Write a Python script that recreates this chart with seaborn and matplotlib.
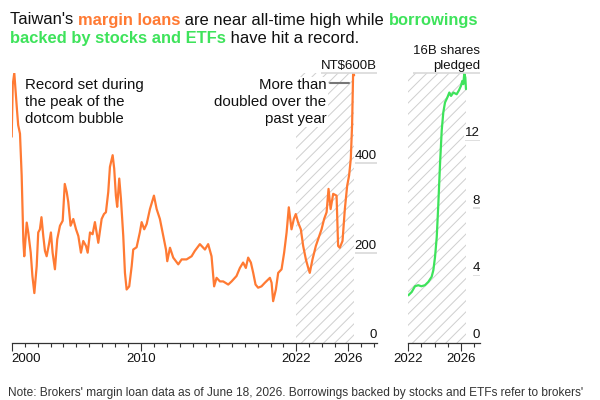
import numpy as np
import pandas as pd
import matplotlib
matplotlib.use('Agg')
import matplotlib.pyplot as plt
import seaborn as sns

# margin loans, NT$ billion
margin_years = [2000.0, 2000.08, 2000.2, 2000.3, 2000.4, 2000.5, 2000.64, 2000.77, 2000.9, 2000.97,
                2001.16, 2001.28, 2001.47, 2001.6, 2001.75, 2001.93, 2002.05, 2002.18, 2002.3, 2002.44,
                2002.57, 2002.7, 2002.88, 2003.03, 2003.16, 2003.34, 2003.52, 2003.73, 2003.94, 2004.1,
                2004.25, 2004.37, 2004.55, 2004.76, 2004.97, 2005.15, 2005.35, 2005.53, 2005.74, 2005.87,
                2006.05, 2006.25, 2006.43, 2006.69, 2006.95, 2007.13, 2007.28, 2007.46, 2007.59, 2007.8,
                2007.92, 2008.05, 2008.15, 2008.31, 2008.44, 2008.62, 2008.75, 2008.88, 2009.08, 2009.27,
                2009.39, 2009.65, 2009.9, 2010.04, 2010.24, 2010.43, 2010.68, 2010.99, 2011.2, 2011.45,
                2011.71, 2011.92, 2012.02, 2012.23, 2012.48, 2012.87, 2013.13, 2013.51, 2013.9, 2014.15,
                2014.54, 2014.93, 2015.18, 2015.44, 2015.64, 2015.83, 2016.09, 2016.34, 2016.73, 2016.99,
                2017.37, 2017.63, 2017.88, 2018.09, 2018.27, 2018.48, 2018.66, 2018.84, 2019.04, 2019.3,
                2019.56, 2019.95, 2020.08, 2020.2, 2020.41, 2020.59, 2020.85, 2021.05, 2021.24, 2021.41,
                2021.62, 2021.8, 2021.95, 2022.13, 2022.34, 2022.52, 2022.73, 2022.91, 2023.03, 2023.24,
                2023.5, 2023.68, 2023.94, 2024.14, 2024.33, 2024.48, 2024.64, 2024.84, 2025.1, 2025.22,
                2025.35, 2025.56, 2025.74, 2025.92, 2026.07, 2026.2, 2026.3, 2026.38, 2026.46]
margin_vals = [458, 574, 600, 560, 521, 484, 465, 372, 226, 192,
               267, 245, 200, 148, 110, 170, 245, 252, 279, 237,
               204, 192, 219, 245, 200, 163, 230, 260, 271, 353,
               335, 313, 260, 275, 252, 237, 200, 226, 215, 200,
               245, 241, 268, 222, 275, 286, 290, 335, 391, 417,
               387, 327, 302, 365, 320, 237, 155, 118, 125, 170,
               207, 212, 245, 268, 252, 264, 297, 327, 297, 275,
               237, 207, 181, 211, 189, 174, 185, 185, 192, 204,
               219, 207, 219, 192, 125, 144, 136, 136, 129, 136,
               148, 166, 178, 166, 189, 178, 155, 129, 122, 125,
               133, 144, 133, 92, 118, 155, 163, 200, 245, 301,
               252, 275, 286, 267, 252, 215, 185, 166, 155, 185,
               215, 230, 252, 275, 290, 342, 297, 331, 327, 215,
               211, 226, 297, 349, 372, 409, 484, 600, 595]

# shares pledged, billions
pledge_years = [2022.0, 2022.26, 2022.51, 2022.76, 2023.0, 2023.27, 2023.53, 2023.78, 2023.91, 2024.04,
                2024.17, 2024.29, 2024.42, 2024.55, 2024.67, 2024.8, 2024.98, 2025.13, 2025.26, 2025.44,
                2025.69, 2025.87, 2026.02, 2026.12, 2026.2, 2026.27, 2026.35, 2026.4]
pledge_vals = [2.8, 3.0, 3.34, 3.4, 3.34, 3.4, 3.6, 3.9, 4.29, 5.08,
               6.26, 8.2, 10.6, 12.6, 13.66, 14.25, 14.55, 14.84, 14.64, 14.84,
               14.74, 14.98, 15.24, 15.53, 15.34, 15.97, 15.73, 15.04]

left_ticks = [2000, 2010, 2022, 2026]
right_ticks = [2022, 2026]
left_yticks = [0, 200, 400, 600]
left_ylabels = ['0', '200', '400', 'NT$600B']
right_yticks = [0, 4, 8, 12, 16]
right_ylabels = ['0', '4', '8', '12', '16B shares\npledged']

orange = '#ff7a33'
green = '#3ee35b'

sns.set_style('white')
plt.rcParams['font.family'] = ['Liberation Sans', 'DejaVu Sans']
plt.rcParams['hatch.linewidth'] = 0.7

fig = plt.figure(figsize=(6, 4), dpi=100)
ax1 = fig.add_axes([0.0195, 0.14375, 0.6083, 0.67375])
ax2 = fig.add_axes([0.6805, 0.14375, 0.1195, 0.67375])

margin = pd.DataFrame({'year': margin_years, 'value': margin_vals})
pledge = pd.DataFrame({'year': pledge_years, 'value': pledge_vals})

sns.lineplot(data=margin, x='year', y='value', ax=ax1, color=orange, lw=1.6, zorder=3)
sns.lineplot(data=pledge, x='year', y='value', ax=ax2, color=green, lw=1.6, zorder=3)

ax1.set_xlim(2000, 2028.2)
ax1.set_ylim(0, 600)
ax2.set_xlim(2022, 2027.47)
ax2.set_ylim(0, 16)

# hatched area = period covered by the pledged shares data
for ax in [ax1, ax2]:
    ax.axvspan(2022, 2026.42, facecolor='white', edgecolor='#cfcfcf', hatch='///', lw=0, zorder=1)

for ax, majors in [(ax1, left_ticks), (ax2, right_ticks)]:
    for s in ['top', 'left', 'right']:
        ax.spines[s].set_visible(False)
    ax.spines['bottom'].set_color('#333333')
    ax.spines['bottom'].set_linewidth(0.9)
    ax.set_xticks(majors)
    ax.set_xticklabels([str(t) for t in majors])
    lo, hi = ax.get_xlim()
    ax.set_xticks(np.arange(int(np.ceil(lo)), int(hi) + 1), minor=True)
    ax.tick_params(axis='x', which='major', bottom=True, direction='out', length=5.5, width=0.8,
                   color='#333333', labelsize=9.5, pad=2, labelcolor='#111111')
    ax.tick_params(axis='x', which='minor', bottom=True, direction='out', length=2.8, width=0.8,
                   color='#333333')
    ax.set_yticks([])
    ax.set_xlabel('')
    ax.set_ylabel('')
    ax.patch.set_alpha(0)

ax1.get_xticklabels()[0].set_ha('left')

# y labels on the right, underlined by short grid lines
ylab_texts = []
for ax, ticks, labels in [(ax1, left_yticks, left_ylabels), (ax2, right_yticks, right_ylabels)]:
    xr = ax.get_xlim()[1]
    for v, lab in zip(ticks, labels):
        t = ax.annotate(lab, (xr, v), xytext=(0, 3), textcoords='offset points',
                        ha='right', va='baseline', fontsize=9.5, color='#111111',
                        multialignment='right', linespacing=1.3, zorder=5,
                        bbox=dict(facecolor='white', edgecolor='none', pad=0.5))
        ylab_texts.append((ax, v, t))

# annotations
ax1.text(2001.05, 589, 'Record set during\nthe peak of the\ndotcom bubble', ha='left', va='top',
         fontsize=10.8, color='#111111', linespacing=1.27, zorder=5)
ax1.text(2024.3, 589, 'More than\ndoubled over the\npast year', ha='right', va='top',
         fontsize=10.8, color='#111111', linespacing=1.27, multialignment='right', zorder=5,
         bbox=dict(facecolor='white', edgecolor='none', pad=1))
ax1.plot([2024.6, 2026.05], [578, 578], color='#777777', lw=1.5, zorder=4)

fig.canvas.draw()
renderer = fig.canvas.get_renderer()
for ax, v, t in ylab_texts:
    if v == 0:
        continue
    bb = t.get_window_extent(renderer)
    x0 = ax.transData.inverted().transform((bb.x0, 0))[0]
    ax.hlines(v, x0, ax.get_xlim()[1], color='#d9d9d9', lw=1.2, zorder=4, clip_on=False)

# subtitle with coloured words
sub_lines = [
    [("Taiwan's ", '#111111', 'normal'), ('margin loans', orange, 'bold'),
     (' are near all-time high while ', '#111111', 'normal'), ('borrowings', green, 'bold')],
    [('backed by stocks and ETFs', green, 'bold'), (' have hit a record.', '#111111', 'normal')],
]
W = fig.get_figwidth() * fig.dpi
H = fig.get_figheight() * fig.dpi
for i, parts in enumerate(sub_lines):
    x = 10
    y = H - (24.5 + 18.5 * i)
    for txt, col, wt in parts:
        t = fig.text(x / W, y / H, txt, fontsize=11.9, color=col, weight=wt, va='baseline', ha='left')
        probe = fig.text(0, 0, txt.replace(' ', '\u00a0') + '|', fontsize=11.9, weight=wt)
        bar = fig.text(0, 0, '|', fontsize=11.9, weight=wt)
        w = probe.get_window_extent(renderer).width - bar.get_window_extent(renderer).width
        probe.remove()
        bar.remove()
        x += w

fig.text(8 / W, 1 - 393 / H, "Note: Brokers' margin loan data as of June 18, 2026. Borrowings backed by "
         "stocks and ETFs refer to brokers'", fontsize=8.55, color='#333333', va='center', ha='left')

fig.savefig('out.png', dpi=100)
